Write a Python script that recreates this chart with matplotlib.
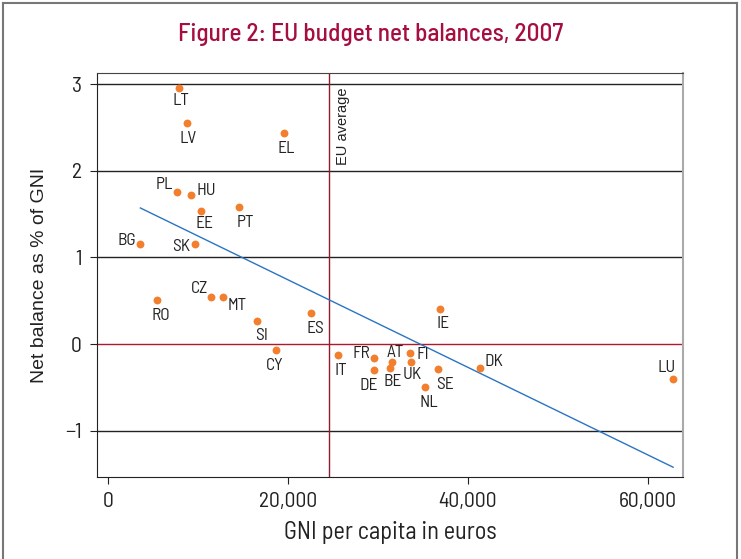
import numpy as np
import matplotlib
matplotlib.use('Agg')
import matplotlib.pyplot as plt
from matplotlib.ticker import FuncFormatter

plt.rcParams['font.family'] = ['Barlow Semi Condensed', 'DejaVu Sans']

# Countries, GNI per capita (euros) and net balance (% of GNI)
countries = ['LT', 'LV', 'EL', 'PL', 'HU', 'EE', 'PT', 'BG', 'SK', 'RO', 'CZ', 'MT', 'SI', 'ES',
             'CY', 'IT', 'FR', 'DE', 'AT', 'BE', 'FI', 'UK', 'SE', 'NL', 'IE', 'DK', 'LU']
gni = [7900, 8800, 19600, 7700, 9200, 10300, 14600, 3600, 9700, 5400, 11400, 12800, 16600, 22600,
       18700, 25600, 29600, 29600, 31600, 31300, 33600, 33700, 36700, 35200, 36900, 41300, 62800]
balance = [2.95, 2.55, 2.43, 1.75, 1.72, 1.53, 1.58, 1.16, 1.16, 0.51, 0.54, 0.54, 0.27, 0.36,
           -0.07, -0.13, -0.16, -0.30, -0.21, -0.27, -0.10, -0.21, -0.29, -0.50, 0.41, -0.27, -0.40]

# label offsets in points (dx, dy)
label_offsets = {
    'LT': (1, -9), 'LV': (1, -11), 'EL': (1, -11), 'PL': (-9, 6), 'HU': (11, 3),
    'EE': (3, -9), 'PT': (4, -11), 'BG': (-10, 2), 'SK': (-10, -2), 'RO': (3, -11),
    'CZ': (-8, 6), 'MT': (10, -6), 'SI': (3, -11), 'ES': (3, -11), 'CY': (-1, -11),
    'IT': (2, -11), 'FR': (-9, 3), 'DE': (-4, -11), 'AT': (2, 7), 'BE': (2, -10),
    'FI': (9, -1), 'UK': (1, -9), 'SE': (5, -11), 'NL': (3, -11), 'IE': (2, -11),
    'DK': (10, 4), 'LU': (-5, 8)}

# fitted line end points
fit_x = [3600, 62800]
fit_y = [1.57, -1.42]

eu_average = 24600

title_color = '#a50e3f'
dot_color = '#f27f2d'
line_color = '#2a74c4'
red_line = '#b2182b'
avg_line = '#8c1c2e'
ink = '#222222'

fig = plt.figure(figsize=(7.41, 5.59), dpi=100)
ax = fig.add_axes([97 / 741, 1 - 477 / 559, (683 - 97) / 741, (477 - 73) / 559])

for y in [3, 2, 1, -1]:
    ax.axhline(y, color=ink, lw=1.0, zorder=1)
ax.axhline(0, color=red_line, lw=1.0, zorder=1)
ax.axvline(eu_average, color=avg_line, lw=1.0, zorder=1)
ax.text(eu_average + 1500, 2.96, 'EU average', rotation=90, ha='center', va='top',
        fontsize=10.5, color=ink, family='Liberation Sans')

ax.plot(fit_x, fit_y, color=line_color, lw=1.0, zorder=2)
ax.scatter(gni, balance, s=32, color=dot_color, zorder=3, linewidths=0)

for c, x, y in zip(countries, gni, balance):
    dx, dy = label_offsets[c]
    ax.annotate(c, (x, y), xytext=(dx, dy), textcoords='offset points',
                ha='center', va='center', fontsize=12.5, color=ink)

ax.set_xlim(-1222, 63900)
ax.set_ylim(-1.533, 3.127)
ax.set_xticks([0, 20000, 40000, 60000])
ax.set_yticks([-1, 0, 1, 2, 3])
ax.xaxis.set_major_formatter(FuncFormatter(lambda v, p: f'{int(v):,}'))
ax.yaxis.set_major_formatter(FuncFormatter(lambda v, p: f'{int(v)}'.replace('-', '\u2212')))
ax.tick_params(labelsize=15.5, length=5, color=ink, labelcolor=ink, pad=6)
for s in ax.spines.values():
    s.set_color(ink)
ax.spines['right'].set_color('#aaaaaa')
ax.spines['right'].set_linewidth(1.5)
ax.spines['top'].set_color('#444444')

ax.set_xlabel('GNI per capita in euros', fontsize=17.5, color=ink, labelpad=7)
ax.set_ylabel('Net balance as % of GNI', fontsize=14, color=ink, labelpad=12,
              family='Liberation Sans')

fig.text(0.5, 1 - 35 / 559, 'Figure 2: EU budget net balances, 2007', ha='center', va='center',
         fontsize=18.2, fontweight='medium', color=title_color)

# outer frame
for xs, ys in [([3, 3], [0, 556]), ([3, 737], [556, 556]), ([737, 737], [0, 556])]:
    fig.add_artist(plt.Line2D([v / 741 for v in xs], [v / 559 for v in ys], color='#777777', lw=1.5))

fig.savefig('out.png', dpi=100)
